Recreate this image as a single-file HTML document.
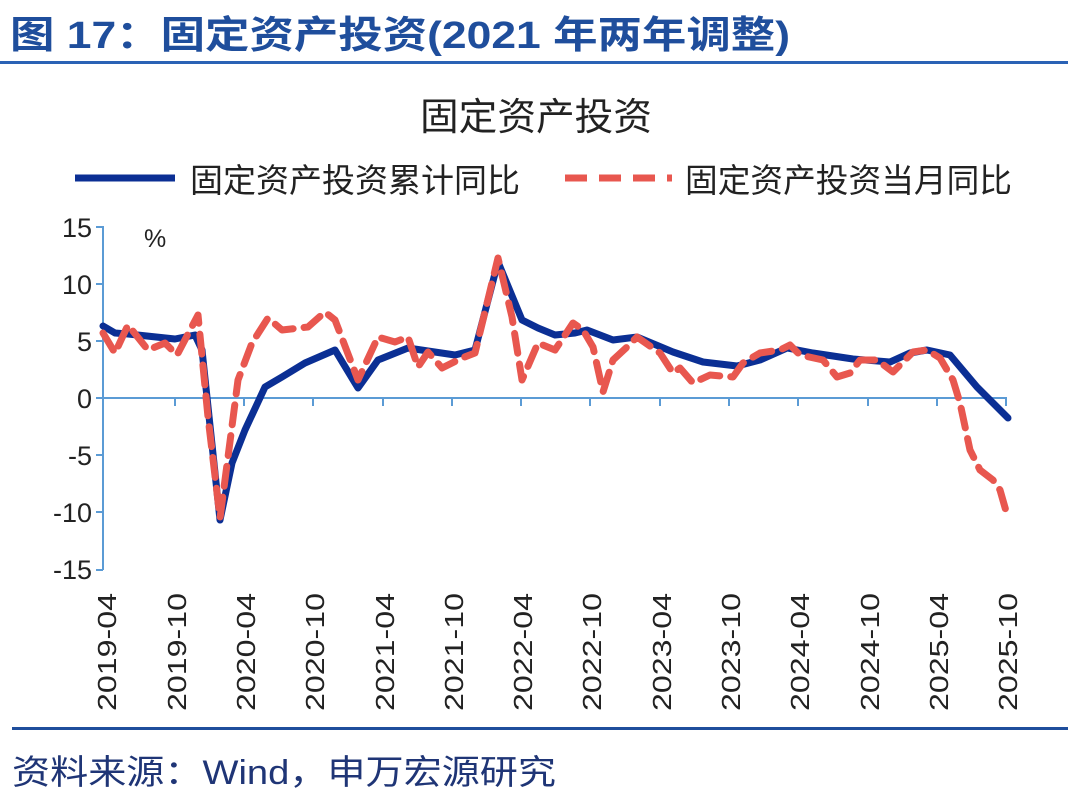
<!DOCTYPE html>
<html><head><meta charset="utf-8"><style>
body{margin:0;background:#fff;}
svg{display:block;font-family:"Liberation Sans","Noto Sans CJK SC",sans-serif;}
</style></head><body>
<svg width="1068" height="802" viewBox="0 0 1068 802">
<text x="10" y="48" font-size="38" font-weight="bold" fill="#1f4e9c" textLength="780" lengthAdjust="spacingAndGlyphs">图 17：固定资产投资(2021 年两年调整)</text>
<rect x="0" y="61" width="1068" height="3" fill="#2a62b5"/>
<text x="420" y="130" font-size="38" fill="#222" textLength="232" lengthAdjust="spacingAndGlyphs">固定资产投资</text>
<line x1="75" y1="178" x2="175" y2="178" stroke="#0b2f94" stroke-width="7"/>
<text x="190" y="192" font-size="33" fill="#222" textLength="330" lengthAdjust="spacingAndGlyphs">固定资产投资累计同比</text>
<line x1="565" y1="178" x2="672" y2="178" stroke="#e8574f" stroke-width="7" stroke-dasharray="22,12"/>
<text x="685" y="192" font-size="33" fill="#222" textLength="327" lengthAdjust="spacingAndGlyphs">固定资产投资当月同比</text>
<g font-size="27" fill="#222" text-anchor="end">
<text x="92" y="237">15</text><text x="92" y="294">10</text><text x="92" y="351">5</text>
<text x="92" y="408">0</text><text x="92" y="465">-5</text><text x="92" y="522">-10</text><text x="92" y="579">-15</text>
</g>
<text x="144" y="247" font-size="25" fill="#222">%</text>
<g stroke="#5b9bd5" stroke-width="2" fill="none">
<line x1="103" y1="226" x2="103" y2="570"/>
<line x1="96" y1="227" x2="103" y2="227"/><line x1="96" y1="284" x2="103" y2="284"/><line x1="96" y1="341" x2="103" y2="341"/><line x1="96" y1="398" x2="103" y2="398"/><line x1="96" y1="455" x2="103" y2="455"/><line x1="96" y1="512" x2="103" y2="512"/><line x1="96" y1="570" x2="103" y2="570"/>
<line x1="103" y1="398" x2="1007" y2="398"/>
<path d="M175 398v8M244 398v8M313 398v8M383 398v8M452 398v8M521 398v8M590 398v8M660 398v8M729 398v8M798 398v8M868 398v8M937 398v8M1006 398v8"/>
</g>
<polyline fill="none" stroke="#0b2f94" stroke-width="7" stroke-linejoin="round" stroke-linecap="round" points="103,326 115,333 128,334 175,339 195,335 202,350 220,520 232,463 245,430 265,387 282,377 305,363 335,350 358,388 378,360 408,348 428,351 455,355 475,350 498,262 522,320 538,328 555,335 575,333 587,330 613,340 637,337 673,352 703,362 737,366 760,360 787,348 813,353 853,359 890,362 910,353 927,350 950,355 977,387 1008,418"/>
<polyline fill="none" stroke="#e8574f" stroke-width="7" stroke-dasharray="20,11" stroke-linejoin="round" stroke-linecap="round" points="103,333 115,353 128,325 148,350 165,343 177,355 198,315 208,417 220,518 228,457 238,380 252,343 268,318 282,330 308,327 325,312 335,320 358,380 378,337 395,342 408,337 418,367 428,352 442,368 462,358 475,353 498,258 512,317 522,380 538,343 555,350 573,323 583,330 593,347 603,392 613,360 627,347 637,337 660,353 673,373 680,368 693,383 710,375 733,377 743,363 760,353 780,350 790,345 800,355 823,360 837,377 850,373 860,360 877,360 893,372 900,365 913,352 927,350 940,358 953,380 960,403 970,450 980,470 993,480 1000,490 1008,518"/>
<g font-size="26" fill="#222" text-anchor="end">
<text transform="translate(116,593) rotate(-90)" textLength="118" lengthAdjust="spacingAndGlyphs">2019-04</text>
<text transform="translate(186,593) rotate(-90)" textLength="118" lengthAdjust="spacingAndGlyphs">2019-10</text>
<text transform="translate(255,593) rotate(-90)" textLength="118" lengthAdjust="spacingAndGlyphs">2020-04</text>
<text transform="translate(324,593) rotate(-90)" textLength="118" lengthAdjust="spacingAndGlyphs">2020-10</text>
<text transform="translate(394,593) rotate(-90)" textLength="118" lengthAdjust="spacingAndGlyphs">2021-04</text>
<text transform="translate(463,593) rotate(-90)" textLength="118" lengthAdjust="spacingAndGlyphs">2021-10</text>
<text transform="translate(532,593) rotate(-90)" textLength="118" lengthAdjust="spacingAndGlyphs">2022-04</text>
<text transform="translate(601,593) rotate(-90)" textLength="118" lengthAdjust="spacingAndGlyphs">2022-10</text>
<text transform="translate(671,593) rotate(-90)" textLength="118" lengthAdjust="spacingAndGlyphs">2023-04</text>
<text transform="translate(740,593) rotate(-90)" textLength="118" lengthAdjust="spacingAndGlyphs">2023-10</text>
<text transform="translate(809,593) rotate(-90)" textLength="118" lengthAdjust="spacingAndGlyphs">2024-04</text>
<text transform="translate(879,593) rotate(-90)" textLength="118" lengthAdjust="spacingAndGlyphs">2024-10</text>
<text transform="translate(948,593) rotate(-90)" textLength="118" lengthAdjust="spacingAndGlyphs">2025-04</text>
<text transform="translate(1017,593) rotate(-90)" textLength="118" lengthAdjust="spacingAndGlyphs">2025-10</text>
</g>
<rect x="12" y="727" width="1056" height="3" fill="#1f4e9c"/>
<text x="12" y="784" font-size="34" fill="#1f3576" textLength="544" lengthAdjust="spacingAndGlyphs">资料来源：Wind，申万宏源研究</text>
</svg>
</body></html>
